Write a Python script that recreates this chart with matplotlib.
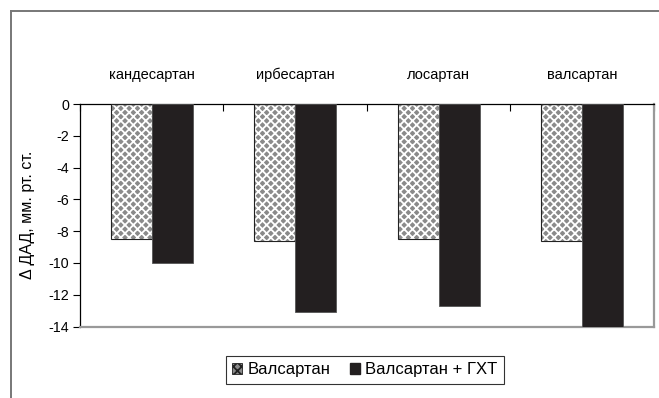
import numpy as np
import matplotlib.pyplot as plt
from matplotlib.lines import Line2D
from matplotlib.patches import Patch

plt.rcParams['font.family'] = ['Liberation Sans', 'DejaVu Sans']

drugs = ['кандесартан', 'ирбесартан', 'лосартан', 'валсартан']
mono = [-8.5, -8.6, -8.5, -8.6]
combo = [-10.0, -13.1, -12.7, -14.0]
series_names = ['Валсартан', 'Валсартан + ГХТ']
yticks = [0, -2, -4, -6, -8, -10, -12, -14]

fig = plt.figure(figsize=(6.59, 3.98), dpi=100)
ax = fig.add_axes([0.1214, 0.1796, 0.871, 0.559])

x = np.arange(len(drugs))
w = 0.286

# patterned bars: gray base, white cross hatch, then a dark outline on top
plt.rcParams['hatch.linewidth'] = 1.3
ax.bar(x - w / 2, mono, w, color='#8a8a8a', hatch='xxxx', edgecolor='white',
       linewidth=0, zorder=2)
ax.bar(x - w / 2, mono, w, facecolor='none', edgecolor='#222222',
       linewidth=0.8, zorder=3)
ax.bar(x + w / 2, combo, w, color='#231f20', edgecolor='#555555',
       linewidth=0.6, zorder=3)

ax.set_xlim(-0.5, len(drugs) - 0.5)
ax.set_ylim(-14, 0)
ax.set_yticks(yticks)
ax.set_yticklabels([str(v) for v in yticks], fontsize=10.3)
ax.tick_params(axis='y', direction='out', length=5, width=0.8, pad=3)
ax.set_ylabel('Δ ДАД, мм. рт. ст.', fontsize=11.5)
ax.yaxis.set_label_coords(-0.079, 0.5)

# category axis sits at the zero line on top, names above it
ax.xaxis.set_ticks_position('top')
ax.set_xticks(np.arange(len(drugs) + 1) - 0.5)
ax.set_xticklabels([])
ax.set_xticks(x, minor=True)
ax.set_xticklabels(drugs, minor=True, fontsize=10.5)
ax.tick_params(axis='x', which='major', direction='in', length=5, width=0.8)
ax.tick_params(axis='x', which='minor', length=0, pad=16)

for side in ['left', 'top']:
    ax.spines[side].set_color('black')
    ax.spines[side].set_linewidth(0.9)
for side in ['right', 'bottom']:
    ax.spines[side].set_color('#999999')
    ax.spines[side].set_linewidth(1.6)

handles = [Patch(facecolor='#8a8a8a', edgecolor='#222222', hatch='xxxx', linewidth=0.6),
           Patch(facecolor='#231f20', edgecolor='#231f20')]
leg = fig.legend(handles, series_names, loc='center', bbox_to_anchor=(0.554, 0.0704),
                 ncol=2, fontsize=12, frameon=True, fancybox=False,
                 handlelength=0.6, handleheight=0.6, handletextpad=0.3,
                 columnspacing=1.2, borderpad=0.4)
leg.get_frame().set_edgecolor('black')
leg.get_frame().set_linewidth(0.8)

# outer chart frame (top and left edges)
fig.add_artist(Line2D([11 / 659, 1.0], [1 - 11 / 398, 1 - 11 / 398],
                      color='#777777', linewidth=1.4, transform=fig.transFigure))
fig.add_artist(Line2D([11 / 659, 11 / 659], [0.0, 1 - 11 / 398],
                      color='#777777', linewidth=1.4, transform=fig.transFigure))

fig.savefig('out.png', dpi=100)
